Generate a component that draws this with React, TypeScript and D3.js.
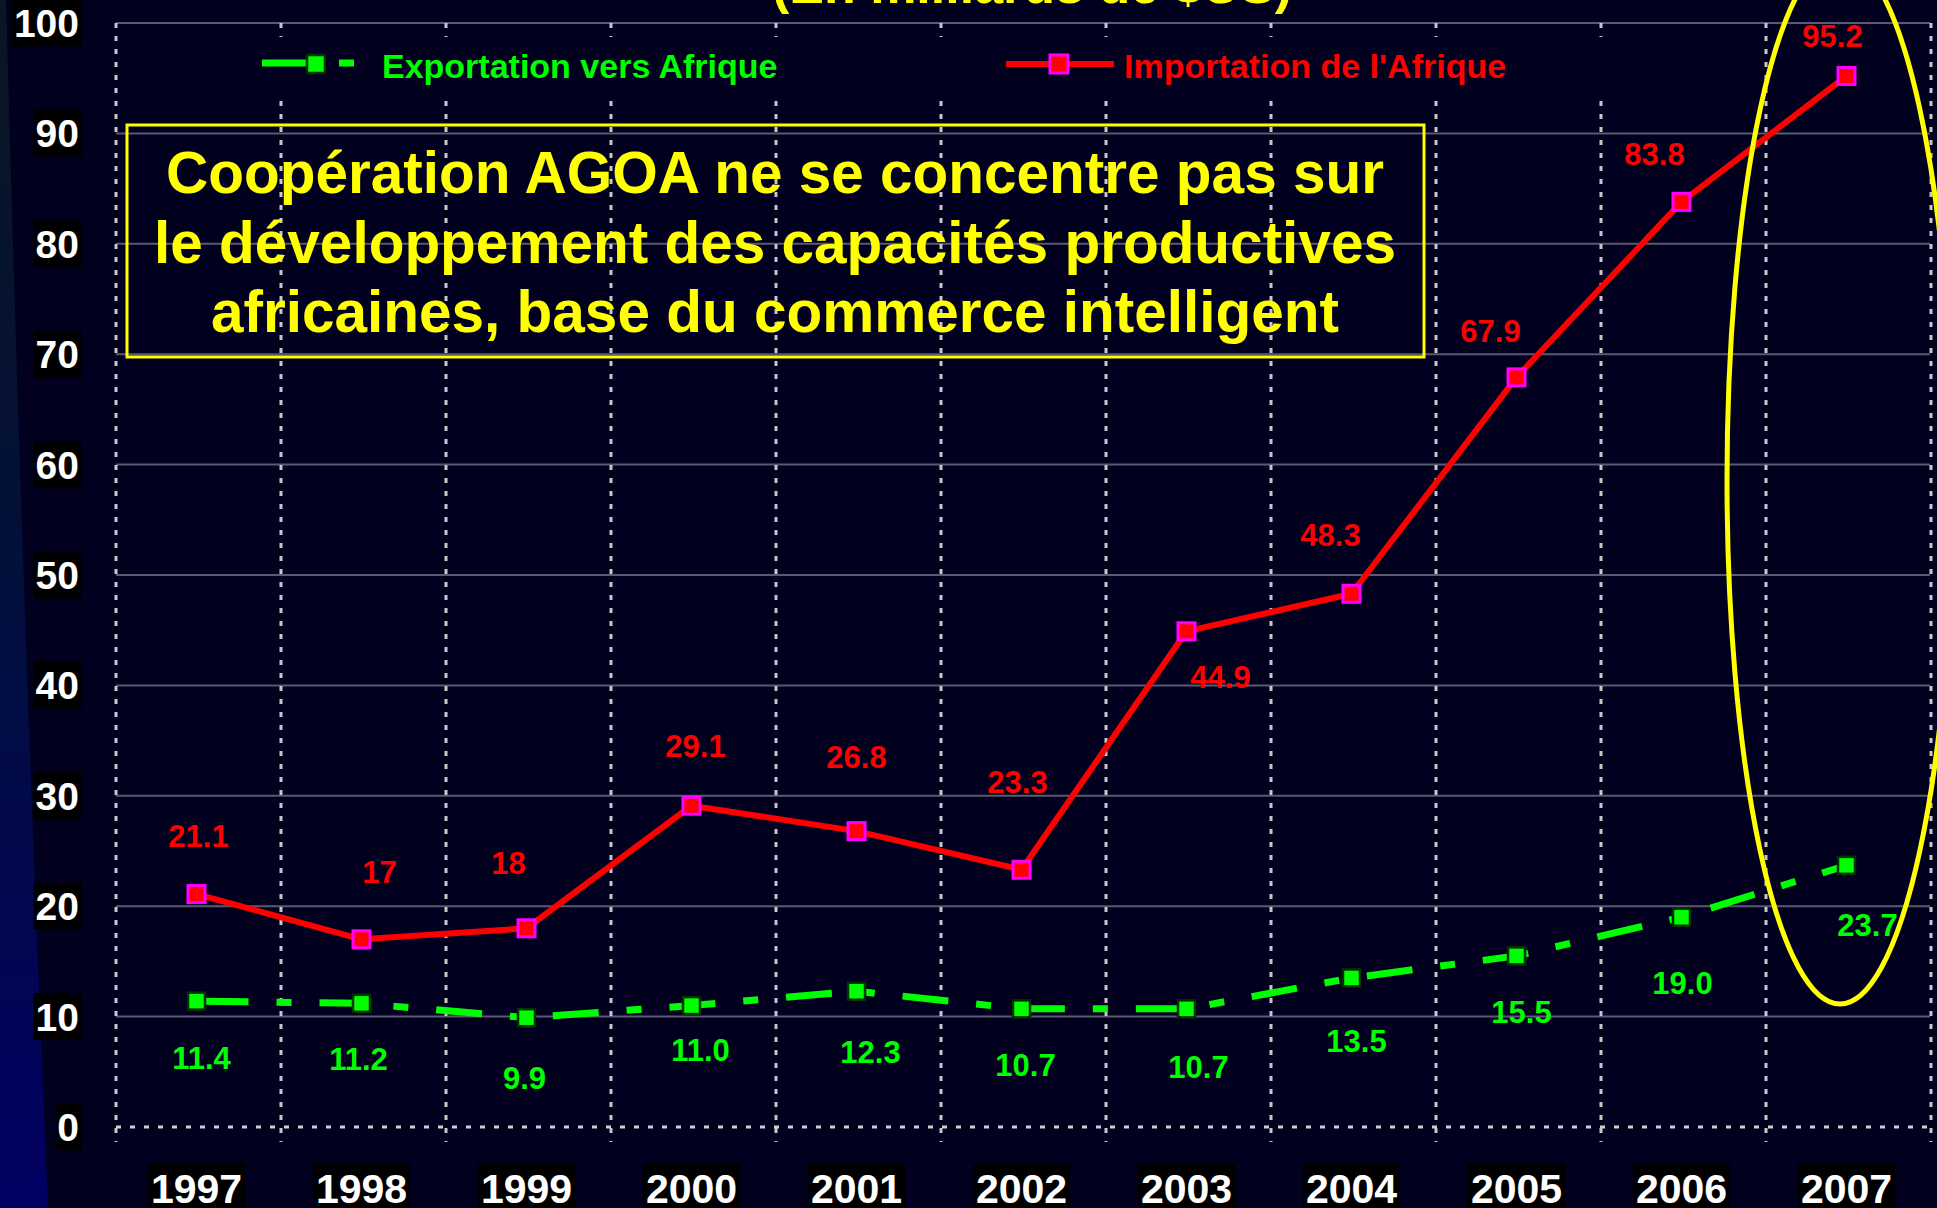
import React from 'react';
import * as d3 from 'd3';

const years = ['1997', '1998', '1999', '2000', '2001', '2002', '2003', '2004', '2005', '2006', '2007'];
const exportsToAfrica = [11.4, 11.2, 9.9, 11.0, 12.3, 10.7, 10.7, 13.5, 15.5, 19.0, 23.7];
const importsFromAfrica = [21.1, 17, 18, 29.1, 26.8, 23.3, 44.9, 48.3, 67.9, 83.8, 95.2];
const exportLabels = ['11.4', '11.2', '9.9', '11.0', '12.3', '10.7', '10.7', '13.5', '15.5', '19.0', '23.7'];
const importLabels = ['21.1', '17', '18', '29.1', '26.8', '23.3', '44.9', '48.3', '67.9', '83.8', '95.2'];
const yTicks = [0, 10, 20, 30, 40, 50, 60, 70, 80, 90, 100];

const titleText = '(En milliards de $US)';
const exportName = 'Exportation vers Afrique';
const importName = "Importation de l'Afrique";
const noteLines = [
  'Coopération AGOA ne se concentre pas sur',
  'le développement des capacités productives',
  'africaines, base du commerce intelligent',
];

// label placement offsets (layout, px) relative to each point
const exportLabelOffsets = [[5, 68], [-3, 67], [-2, 71], [9, 55], [14, 72], [4, 67], [12, 69], [5, 74], [5, 67], [1, 77], [21, 71]];
const importLabelOffsets = [[2, -47], [18, -56], [-18, -54], [4, -49], [0, -63], [-4, -77], [34, 57], [-21, -48], [-26, -35], [-27, -37], [-14, -29]];

const W = 1937;
const H = 1208;
const FONT = "'Liberation Sans', Arial, Helvetica, sans-serif";
const BG = '#01011f';

export default function App() {
  const x = d3.scaleBand<string>().domain(years).range([114, 1929]).padding(0);
  const y = d3.scaleLinear().domain([0, 100]).range([1127, 23]);
  const cx = (i: number) => (x(years[i]) as number) + x.bandwidth() / 2;

  const lineGen = d3
    .line<number>()
    .x((_, i) => cx(i))
    .y((d) => y(d));

  const boundaries = d3.range(years.length + 1).map((i) => 114 + i * x.bandwidth() + 2);
  const gridLeft = 116;
  const gridRight = 1930;

  const ms = 17;

  return (
    <svg
      width={W}
      height={H}
      style={{ position: 'absolute', left: 0, top: 0, display: 'block' }}
      fontFamily={FONT}
    >
      <defs>
        <linearGradient id="leftStrip" x1="0" y1="0" x2="0" y2="1">
          <stop offset="0%" stopColor="#0b1622" />
          <stop offset="45%" stopColor="#02103a" />
          <stop offset="100%" stopColor="#000062" />
        </linearGradient>
      </defs>
      <rect x={0} y={0} width={W} height={H} fill={BG} />
      <path d="M0,0 L6,0 Q22,600 48,1208 L0,1208 Z" fill="url(#leftStrip)" />

      {/* horizontal gridlines */}
      {yTicks.filter((t) => t > 0).map((t) => (
        <line key={'g' + t} x1={gridLeft} x2={gridRight} y1={y(t)} y2={y(t)} stroke="#5a5a72" strokeWidth={2} />
      ))}

      {/* vertical dashed lines */}
      {boundaries.map((bx, i) => (
        <line key={'v' + i} x1={bx} x2={bx} y1={y(100)} y2={1142} stroke="#c8c8c8" strokeWidth={3} strokeDasharray="5 8" />
      ))}

      {/* zero line */}
      <line x1={gridLeft} x2={gridRight} y1={y(0)} y2={y(0)} stroke="#d0d0d0" strokeWidth={3} strokeDasharray="5 9" />

      {/* legend background */}
      <rect x={132} y={37} width={1565} height={63} fill={BG} />

      {/* title */}
      <text x={1032} y={3} textAnchor="middle" fontSize={52} fontWeight="bold" fill="#ffff00">
        {titleText}
      </text>

      {/* legend */}
      <path d="M262,63 L354,63" stroke="#00ff00" strokeWidth={7} strokeDasharray="45 32 15 100" fill="none" />
      <rect x={316 - 9} y={64 - 9} width={18} height={18} fill="#00ff00" stroke="#003300" strokeWidth={2.5} />
      <text x={382} y={78} fontSize={34} fontWeight="bold" fill="#00ff00">{exportName}</text>

      <line x1={1006} x2={1114} y1={64} y2={64} stroke="#ff0000" strokeWidth={6} />
      <rect x={1059 - 9} y={64 - 9} width={18} height={18} fill="#ff0000" stroke="#ff00ff" strokeWidth={3} />
      <text x={1124} y={78} fontSize={34} fontWeight="bold" fill="#ff0000">{importName}</text>

      {/* annotation box */}
      <rect x={127} y={125} width={1297} height={232} fill="none" stroke="#ffff00" strokeWidth={3} />
      {noteLines.map((l, i) => (
        <text key={'n' + i} x={775} y={193 + i * 69.5} textAnchor="middle" fontSize={58.5} fontWeight="bold" fill="#ffff00">
          {l}
        </text>
      ))}

      {/* series lines */}
      <path d={lineGen(importsFromAfrica) || ''} fill="none" stroke="#ff0000" strokeWidth={6} strokeLinejoin="round" />
      <path
        d={lineGen(exportsToAfrica) || ''}
        fill="none"
        stroke="#00ff00"
        strokeWidth={7}
        strokeDasharray="46 28 15 28"
        strokeDashoffset={-6}
      />

      {/* markers */}
      {importsFromAfrica.map((v, i) => (
        <rect key={'im' + i} x={cx(i) - ms / 2} y={y(v) - ms / 2} width={ms} height={ms} fill="#ff0000" stroke="#ff00ff" strokeWidth={3} />
      ))}
      {exportsToAfrica.map((v, i) => (
        <rect key={'em' + i} x={cx(i) - ms / 2} y={y(v) - ms / 2} width={ms} height={ms} fill="#00ff00" stroke="#003300" strokeWidth={2.5} />
      ))}

      {/* data labels */}
      {importsFromAfrica.map((v, i) => (
        <text
          key={'il' + i}
          x={cx(i) + importLabelOffsets[i][0]}
          y={y(v) + importLabelOffsets[i][1]}
          textAnchor="middle"
          fontSize={31}
          fontWeight="bold"
          fill="#ff0000"
        >
          {importLabels[i]}
        </text>
      ))}
      {exportsToAfrica.map((v, i) => (
        <text
          key={'el' + i}
          x={cx(i) + exportLabelOffsets[i][0]}
          y={y(v) + exportLabelOffsets[i][1]}
          textAnchor="middle"
          fontSize={31}
          fontWeight="bold"
          fill="#00ff00"
        >
          {exportLabels[i]}
        </text>
      ))}

      {/* highlight ellipse */}
      <ellipse cx={1840} cy={480} rx={113} ry={524} fill="none" stroke="#ffff00" strokeWidth={5} />

      {/* y axis labels */}
      {yTicks.map((t) => {
        const s = String(t);
        const fs = 39;
        const tw = s.length * 0.556 * fs;
        return (
          <g key={'y' + t}>
            <rect x={80 - tw - 3} y={y(t) - 23.5} width={tw + 5} height={47} fill="#000000" />
            <text x={79} y={y(t) + 14} textAnchor="end" fontSize={fs} fontWeight="bold" fill="#ffffff">
              {s}
            </text>
          </g>
        );
      })}

      {/* x axis labels */}
      {years.map((yr, i) => {
        const fs = 41;
        const tw = yr.length * 0.556 * fs;
        return (
          <g key={'x' + yr}>
            <rect x={cx(i) - tw / 2 - 3} y={1164} width={tw + 6} height={50} fill="#000000" />
            <text x={cx(i)} y={1203} textAnchor="middle" fontSize={fs} fontWeight="bold" fill="#ffffff">
              {yr}
            </text>
          </g>
        );
      })}
    </svg>
  );
}
